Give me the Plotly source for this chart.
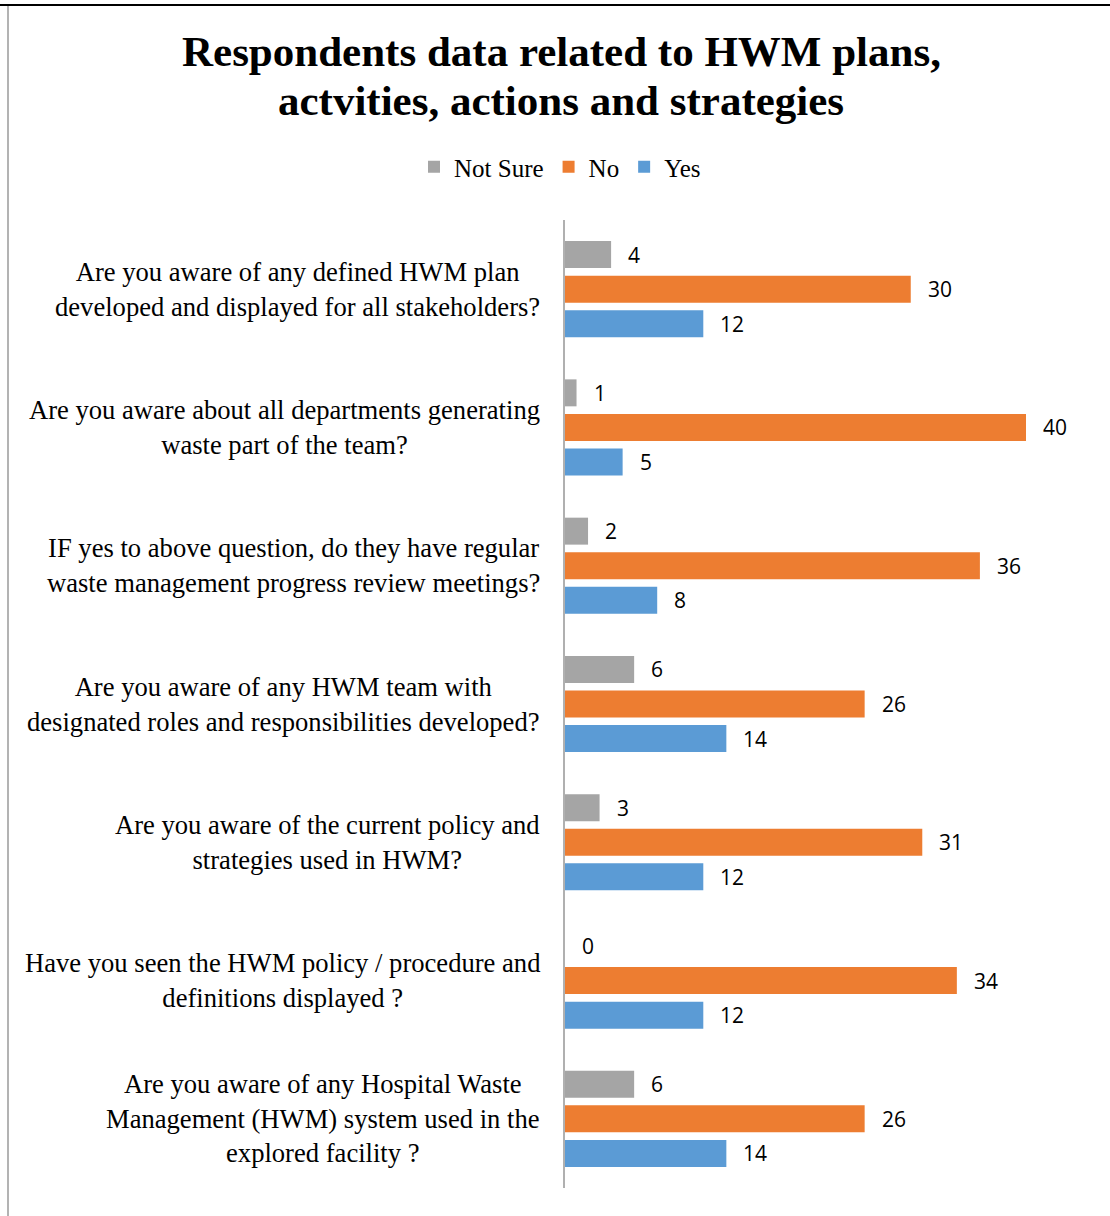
import plotly.graph_objects as go

categories = [
    "Are you aware of any Hospital Waste<br>Management (HWM) system used in the<br>explored facility ?",
    "Have you seen the HWM policy / procedure and<br>definitions displayed ?",
    "Are you aware of the current policy and<br>strategies used in HWM?",
    "Are you aware of any HWM team with<br>designated roles and responsibilities developed?",
    "IF yes to above question, do they have regular<br>waste management progress review meetings?",
    "Are you aware about all departments generating<br>waste part of the team?",
    "Are you aware of any defined HWM plan<br>developed and displayed for all stakeholders?",
]
not_sure = [6, 0, 3, 6, 2, 1, 4]
no = [26, 34, 31, 26, 36, 40, 30]
yes = [14, 12, 12, 14, 8, 5, 12]
title_lines = ["Respondents data related to HWM plans,", "actvities, actions and strategies"]

series = [("Yes", yes, "#5B9BD5", -0.25), ("No", no, "#ED7D31", 0.0), ("Not Sure", not_sure, "#A5A5A5", 0.25)]

W, H = 1110, 1216
L, R, T, B = 565, 20, 220, 28
pw, ph = W - L - R, H - T - B
XMAX = pw / 11.525
SERIF = "Liberation Serif, Times New Roman, serif"

def px(X):
    return (X - L) / pw

def py(Y):
    return (H - B - Y) / ph

fig = go.Figure()
ypos = list(range(len(categories)))
for name, vals, color, off in series:
    fig.add_trace(go.Bar(
        name=name, y=ypos, x=vals, orientation="h",
        marker=dict(color=color, line=dict(width=0)),
    ))

annotations = []
for name, vals, color, off in series:
    for i, v in enumerate(vals):
        annotations.append(dict(
            x=v, y=i + off, xref="x", yref="y", text=str(v), showarrow=False,
            xanchor="left", yanchor="middle", xshift=15,
            font=dict(family="Open Sans, sans-serif", size=21, color="#000000"),
        ))
for i, c in enumerate(categories):
    annotations.append(dict(
        x=px(542), y=i, xref="paper", yref="y", text=c, showarrow=False,
        xanchor="right", yanchor="middle", align="center",
        font=dict(family=SERIF, size=26.6, color="#000000"),
    ))
for k, (line, ymid) in enumerate(zip(title_lines, [52, 101])):
    annotations.append(dict(
        x=px(561), y=py(ymid), xref="paper", yref="paper", text="<b>" + line + "</b>",
        showarrow=False, xanchor="center", yanchor="middle",
        font=dict(family=SERIF, size=43, color="#000000"),
    ))

shapes = [
    dict(type="line", xref="paper", yref="paper", x0=px(0), x1=px(W), y0=py(5), y1=py(5),
         line=dict(color="#000000", width=2)),
    dict(type="line", xref="paper", yref="paper", x0=px(8), x1=px(8), y0=py(6), y1=py(H),
         line=dict(color="#9a9a9a", width=1.5)),
]

fig.update_layout(
    width=W, height=H,
    margin=dict(l=L, r=R, t=T, b=B),
    paper_bgcolor="white", plot_bgcolor="white",
    barmode="group", bargap=0.25, bargroupgap=0.22,
    legend=dict(
        orientation="h", traceorder="reversed",
        x=px(560), xanchor="center", y=py(167), yanchor="middle",
        font=dict(family=SERIF, size=25, color="#000000"),
        itemwidth=30, itemsizing="constant",
    ),
    xaxis=dict(range=[0, XMAX], showgrid=False, zeroline=False, showticklabels=False,
               showline=False, ticks=""),
    yaxis=dict(range=[-0.5, len(categories) - 0.5], showgrid=False, zeroline=False,
               showticklabels=False, ticks="", showline=True, linecolor="#b0b0b0", linewidth=1.5),
    annotations=annotations,
    shapes=shapes,
    showlegend=True,
)

fig.write_html("out.html")
